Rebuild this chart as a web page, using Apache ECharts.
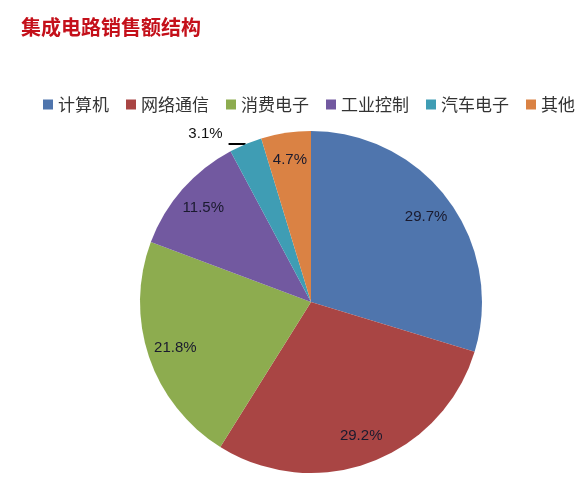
<!DOCTYPE html>
<html>
<head>
<meta charset="utf-8">
<script src="https://cdn.jsdelivr.net/npm/echarts@6/dist/echarts.min.js"></script>
<style>
html,body{margin:0;padding:0;background:#fff;}
#chart{width:587px;height:483px;}
</style>
</head>
<body>
<div id="chart"></div>
<script>
const titleText = '集成电路销售额结构';
const categories = ['计算机', '网络通信', '消费电子', '工业控制', '汽车电子', '其他'];
const values = [29.7, 29.2, 21.8, 11.5, 3.1, 4.7];
const colors = ['#4F75AD', '#A94544', '#8DAC4F', '#7259A0', '#3F9DB4', '#DA8244'];
const outsideIndex = 4;

const chart = echarts.init(document.getElementById('chart'), null, {renderer: 'canvas'});
const CX = 311, CY = 302, R = 171;
const fmt = p => p.value.toFixed(1) + '%';

const mainData = categories.map((c, i) => {
  const d = {name: c, value: values[i], itemStyle: {color: colors[i]}};
  if (i === outsideIndex) {
    d.label = {show: true, position: 'outside', formatter: fmt, color: '#111',
      fontSize: 15, fontFamily: 'Liberation Sans, Arial, sans-serif',
      offset: [0, -10], distanceToLabelLine: 6};
    d.labelLine = {show: true, length: 0, length2: 17, lineStyle: {color: '#000', width: 2}};
  }
  return d;
});
const labelData = categories.map((c, i) => ({
  name: c, value: values[i],
  label: {show: i !== outsideIndex}
}));

chart.setOption({
  animation: false,
  backgroundColor: '#fff',
  title: {
    text: titleText, left: 16, top: 12,
    textStyle: {color: '#C4101A', fontSize: 20, fontWeight: 'bold', fontFamily: 'Noto Sans CJK SC'}
  },
  legend: {
    data: categories, left: 38, top: 91, itemWidth: 10, itemHeight: 10, itemGap: 17,
    icon: 'rect',
    textStyle: {fontSize: 17, color: '#333', fontFamily: 'Noto Sans CJK SC'}
  },
  series: [
    {
      type: 'pie', center: [CX, CY], radius: [0, R], startAngle: 90, clockwise: true,
      avoidLabelOverlap: false, silent: true,
      itemStyle: {borderWidth: 0},
      label: {show: false},
      labelLine: {show: false},
      data: mainData
    },
    {
      type: 'pie', center: [CX, CY], radius: [R * 0.64, R], startAngle: 90, clockwise: true,
      avoidLabelOverlap: false, silent: true, legendHoverLink: false,
      itemStyle: {color: 'rgba(0,0,0,0)', borderWidth: 0},
      label: {show: true, position: 'inside', formatter: fmt, color: '#1a1a2e', fontSize: 15,
        fontFamily: 'Liberation Sans, Arial, sans-serif'},
      labelLine: {show: false},
      data: labelData
    }
  ]
});
</script>
</body>
</html>
